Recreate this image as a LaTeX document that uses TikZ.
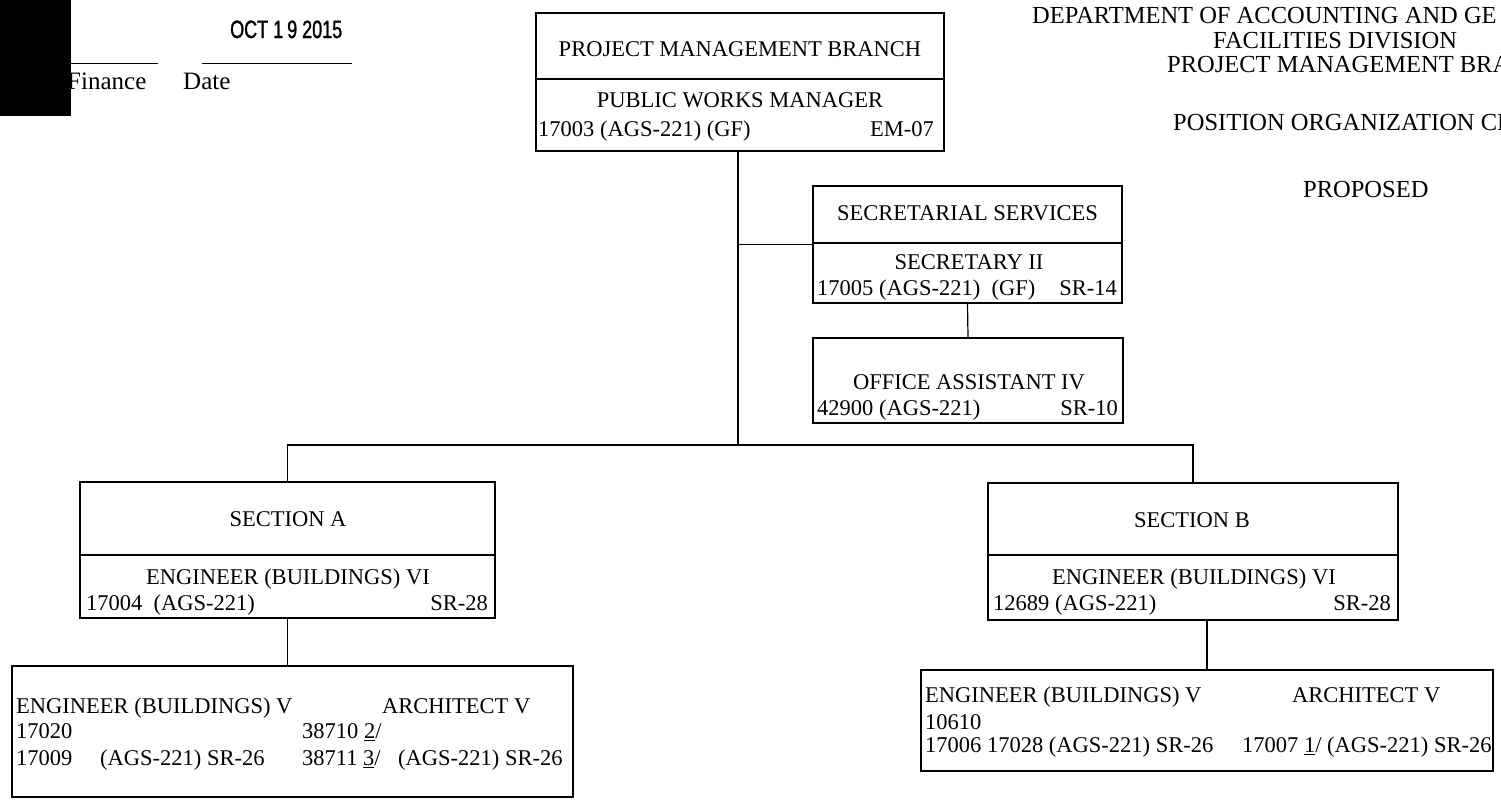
\documentclass[tikz,border=0pt]{standalone}
\usepackage{fontspec}
\setmainfont{Liberation Serif}
\newfontfamily\stampfont[FakeStretch=0.72,FakeBold=1.2]{Liberation Sans}
\begin{document}
\begin{tikzpicture}[x=1pt,y=-1pt,
  box/.style={draw, line width=1.2pt, inner sep=0pt},
  txt/.style={inner sep=0pt, font=\fontsize{22.5}{27}\selectfont},
  head/.style={inner sep=0pt, font=\fontsize{24.5}{29}\selectfont, anchor=base west},
  link/.style={line width=1.2pt}]
\useasboundingbox (0,0) rectangle (1501,801);

% ---- top-left signature area ----
\node[inner sep=0pt, anchor=base west, font=\fontsize{25}{30}\selectfont] (fin) at (67,89) {Finance};
\node[inner sep=0pt, anchor=base west, font=\fontsize{25}{30}\selectfont] (date) at (183,89) {Date};
\node[inner sep=0pt, anchor=base west, font=\stampfont\fontsize{25}{30}\selectfont] (stamp) at (230,38) {OCT 1\kern4pt9 2015};
\draw[line width=1pt] (71,63) -- (158,63);
\draw[line width=1pt] (202,63) -- (352,63);
\fill[black] (0,0) rectangle (71,116);

% ---- header ----
\node[head] (h1) at (1032,23) {DEPARTMENT OF ACCOUNTING AND GE};
\node[head] (h2) at (1213,48) {FACILITIES DIVISION};
\node[head] (h3) at (1167,72) {PROJECT MANAGEMENT BRA};
\node[head] (h4) at (1173,130) {POSITION ORGANIZATION CH};
\node[head] (h5) at (1303,197) {PROPOSED};

% ---- boxes ----
\node[box, minimum width=408pt, minimum height=138pt] (pmb) at (740,82) {};
\node[box, minimum width=309pt, minimum height=117pt] (sec) at (967.5,244.5) {};
\node[box, minimum width=310pt, minimum height=85pt] (oa) at (968,380.5) {};
\node[box, minimum width=415pt, minimum height=136pt] (sa) at (287.5,550) {};
\node[box, minimum width=410pt, minimum height=137pt] (sb) at (1193,551.5) {};
\node[box, minimum width=561pt, minimum height=131pt] (ba) at (292.5,731.5) {};
\node[box, minimum width=572pt, minimum height=101pt] (bb) at (1207,720.5) {};

% dividers
\draw[link] (pmb.west |- 0,79) -- (pmb.east |- 0,79);
\draw[link] (sec.west |- 0,243) -- (sec.east |- 0,243);
\draw[link] (sa.west |- 0,555) -- (sa.east |- 0,555);
\draw[link] (sb.west |- 0,555) -- (sb.east |- 0,555);

% ---- connectors ----
\coordinate (jc) at (738,445);
\draw[link] (pmb.south -| jc) -- (jc);
\draw[link] (sec.west -| jc) -- (sec.west);
\draw[link] (sec.south) -- (oa.north);
\draw[link] (sa.north) -- (sa.north |- jc) -- (sb.north |- jc) -- (sb.north);
\draw[link] (sa.south) -- (sa.south |- ba.north);
\draw[link] (sb.south -| bb.north) -- (bb.north);

% ---- texts: top box ----
\node[txt, anchor=base] (t1) at (740,56.5) {PROJECT MANAGEMENT BRANCH};
\node[txt, anchor=base] (t2) at (740,107.5) {PUBLIC WORKS MANAGER};
\node[txt, anchor=base west] (t3) at (538,136.5) {17003 (AGS-221) (GF)};
\node[txt, anchor=base east] (t4) at (934,136.5) {EM-07};

% secretarial
\node[txt, anchor=base] (s1) at (967.5,220.5) {SECRETARIAL SERVICES};
\node[txt, anchor=base] (s2) at (969,269.5) {SECRETARY II};
\node[txt, anchor=base west] (s3) at (817,295.5) {17005 (AGS-221)\ \ (GF)};
\node[txt, anchor=base east] (s4) at (1117,295.5) {SR-14};

% office assistant
\node[txt, anchor=base] (o1) at (969,389.5) {OFFICE ASSISTANT IV};
\node[txt, anchor=base west] (o2) at (817,415.5) {42900 (AGS-221)};
\node[txt, anchor=base east] (o3) at (1118,415.5) {SR-10};

% section A
\node[txt, anchor=base] (a1) at (288,526.5) {SECTION A};
\node[txt, anchor=base] (a2) at (288,584.5) {ENGINEER (BUILDINGS) VI};
\node[txt, anchor=base west] (a3) at (86,610.5) {17004\ \ (AGS-221)};
\node[txt, anchor=base east] (a4) at (488,610.5) {SR-28};

% section B
\node[txt, anchor=base] (b1) at (1192,527.5) {SECTION B};
\node[txt, anchor=base] (b2) at (1194,584.5) {ENGINEER (BUILDINGS) VI};
\node[txt, anchor=base west] (b3) at (993,610.5) {12689 (AGS-221)};
\node[txt, anchor=base east] (b4) at (1391,610.5) {SR-28};

% bottom A
\node[txt, anchor=base west] (ba1) at (16,713.5) {ENGINEER (BUILDINGS) V};
\node[txt, anchor=base west] (ba2) at (382,713.5) {ARCHITECT V};
\node[txt, anchor=base west] (ba3) at (16,738.5) {17020};
\node[txt, anchor=base west] (ba4) at (302,738.5) {38710 \underline{2}/};
\node[txt, anchor=base west] (ba5) at (16,765.5) {17009};
\node[txt, anchor=base west] (ba6) at (100,765.5) {(AGS-221) SR-26};
\node[txt, anchor=base west] (ba7) at (302,765.5) {38711 \underline{3}/};
\node[txt, anchor=base west] (ba8) at (398,765.5) {(AGS-221) SR-26};

% bottom B
\node[txt, anchor=base west] (bb1) at (925,702.5) {ENGINEER (BUILDINGS) V};
\node[txt, anchor=base west] (bb2) at (1292,702.5) {ARCHITECT V};
\node[txt, anchor=base west] (bb3) at (925,729.5) {10610};
\node[txt, anchor=base west] (bb4) at (925,752.5) {17006 17028 (AGS-221) SR-26};
\node[txt, anchor=base west] (bb5) at (1242,752.5) {17007 \underline{1}/ (AGS-221) SR-26};
\end{tikzpicture}
\end{document}
